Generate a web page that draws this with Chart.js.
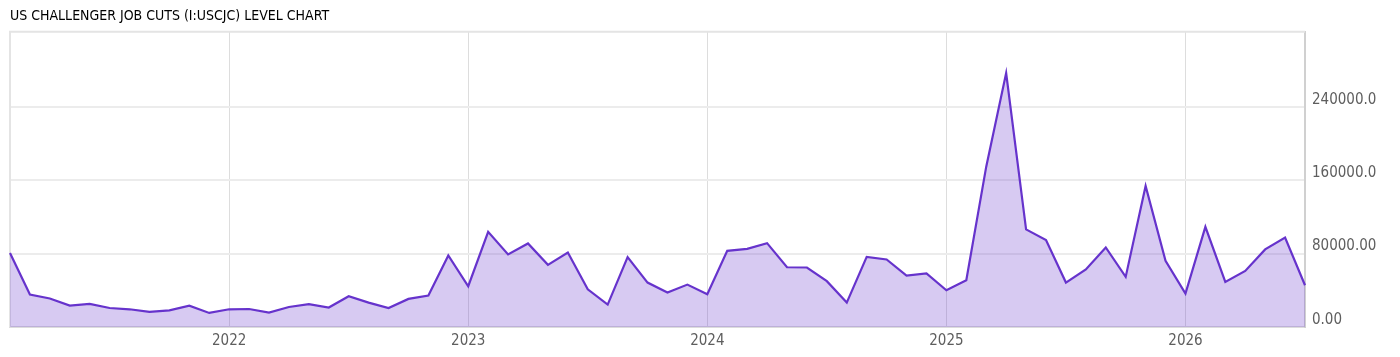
<!DOCTYPE html>
<html>
<head>
<meta charset="utf-8">
<script src="https://cdn.jsdelivr.net/npm/chart.js@4"></script>
<style>
  html, body { margin: 0; padding: 0; background: #fff; }
  #wrap { width: 1400px; height: 357px; position: relative; }
</style>
</head>
<body>
<div id="wrap"><canvas id="lineCanvas"></canvas></div>
<script>
// monthly points, Feb 2021 .. Jul 2026
const firstYear = 2021, firstMonth = 2;
const jobCuts = [
    80700, 35400, 31000, 23300, 25100, 20700, 19300, 16400, 18200, 23300, 15300,
    19300, 19600, 15700, 21800, 24800, 21200, 33500, 26600, 20700, 30600, 34300, 77900,
    44400, 103700, 79000, 91000, 67700, 81200, 41100, 24400, 76100, 48400, 37500, 46200,
    35700, 83000, 85100, 91300, 65100, 64800, 49900, 26600, 76400, 73500, 56100, 58400,
    40000, 51000, 174600, 276600, 106300, 94600, 48400, 62600, 86600, 54600, 153600, 72000,
    36400, 109100, 49100, 61100, 84500, 97500, 45500
];
const yTickValues = [0, 80000, 160000, 240000];
const yTickLabels = ['0.00', '80000.00', '160000.0', '240000.0'];
const chartTitle = 'US CHALLENGER JOB CUTS (I:USCJC) LEVEL CHART';

const months = [];
for (let i = 0; i < jobCuts.length; i++) {
    const m = firstMonth - 1 + i;
    const y = firstYear + Math.floor(m / 12);
    months.push(y + '-' + String(m % 12 + 1).padStart(2, '0'));
}
const isJan = i => months[i] && months[i].endsWith('-01');

const fontFamily = "'Liberation Sans Narrow', 'DejaVu Sans Condensed', 'Roboto', sans-serif";

// light frame round the plot area
const frame = {
    id: 'frame',
    beforeDatasetsDraw(chart) {
        const a = chart.chartArea, ctx = chart.ctx;
        ctx.save();
        ctx.strokeStyle = '#e4e4e4';
        ctx.lineWidth = 2;
        ctx.beginPath();
        ctx.moveTo(a.left, a.bottom);
        ctx.lineTo(a.left, a.top);
        ctx.lineTo(a.right, a.top);
        ctx.stroke();
        ctx.restore();
    }
};

document.addEventListener("DOMContentLoaded", function() {
    const canvas = document.getElementById('lineCanvas');
    new Chart(canvas, {
        type: 'line',
        data: {
            labels: months,
            datasets: [{
                data: jobCuts,
                borderColor: '#6633cc',
                borderWidth: 2.2,
                backgroundColor: 'rgba(102, 51, 204, 0.26)',
                fill: 'origin',
                pointRadius: 0,
                tension: 0
            }]
        },
        options: {
            responsive: true,
            maintainAspectRatio: false,
            animation: false,
            layout: { padding: { left: 10, right: 0, top: 0, bottom: 0 } },
            plugins: {
                legend: { display: false },
                tooltip: { enabled: false },
                title: {
                    display: true,
                    text: chartTitle,
                    align: 'start',
                    color: '#000',
                    font: { family: fontFamily, size: 14, weight: 'normal' },
                    padding: { top: 8, bottom: 7 }
                }
            },
            scales: {
                x: {
                    offset: false,
                    grid: {
                        color: ctx => isJan(ctx.index) ? '#dddddd' : 'rgba(0,0,0,0)',
                        drawTicks: false
                    },
                    border: { color: '#dcdcdc', width: 2 },
                    ticks: {
                        autoSkip: false,
                        maxRotation: 0,
                        padding: 5,
                        color: '#5e5e5e',
                        font: { family: fontFamily, size: 15 },
                        callback: (v, i) => isJan(i) ? months[i].slice(0, 4) : ''
                    },
                    afterFit(axis) { axis.height = 30; }
                },
                y: {
                    position: 'right',
                    min: 0,
                    max: 321500,
                    afterBuildTicks(axis) {
                        axis.ticks = yTickValues.map(v => ({ value: v }));
                    },
                    grid: { color: '#ececec', lineWidth: 2, drawTicks: false },
                    border: { color: '#d0d0d0', width: 2 },
                    ticks: {
                        padding: 7,
                        labelOffset: -7,
                        color: '#5e5e5e',
                        font: { family: fontFamily, size: 15 },
                        callback: v => yTickLabels[yTickValues.indexOf(v)]
                    },
                    afterFit(axis) { axis.width = 95; }
                }
            }
        },
        plugins: [frame]
    });
});
</script>
</body>
</html>
